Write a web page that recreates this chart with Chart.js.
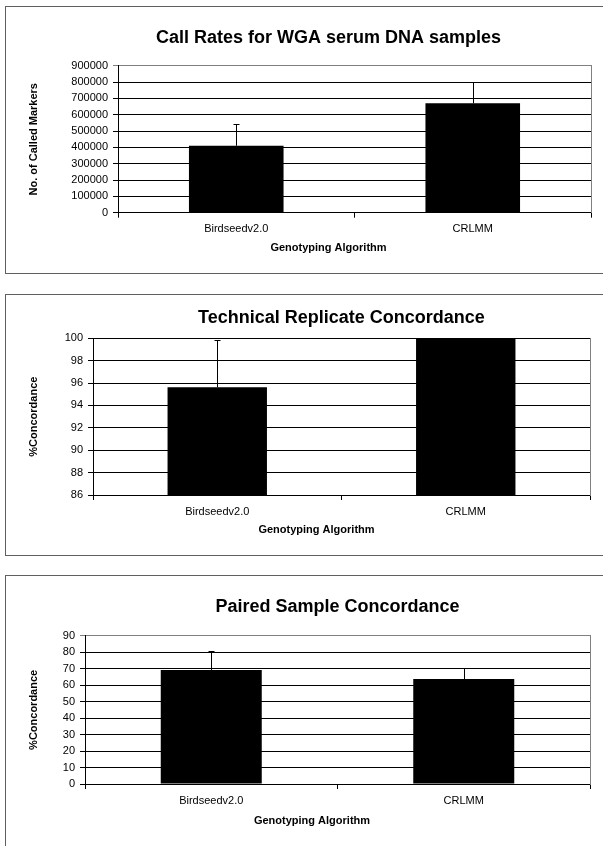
<!DOCTYPE html>
<html>
<head>
<meta charset="utf-8">
<script src="https://cdn.jsdelivr.net/npm/chart.js@4.4.1/dist/chart.umd.min.js"></script>
<style>
html, body { margin: 0; padding: 0; background: #fff; overflow: hidden; width: 603px; height: 846px; }
.box { position: absolute; left: 5px; width: 700px; border: 1px solid #606060; box-sizing: border-box; }
canvas { position: absolute; left: 0; }
</style>
</head>
<body>
<div class="box" style="top:6px;height:268px"></div>
<div class="box" style="top:294px;height:262px"></div>
<div class="box" style="top:575px;height:400px"></div>
<canvas id="c1" width="657" height="267" style="top:6px"></canvas>
<canvas id="c2" width="633" height="261" style="top:294px"></canvas>
<canvas id="c3" width="624" height="271" style="top:575px"></canvas>
<script>
var algorithms = ["Birdseedv2.0", "CRLMM"];

var callRates = [410000, 670000];
var callRateErr = [135000, 128000];
var callTicks = [0, 900000, 100000];

var techConcordance = [95.62, 100];
var techErr = [4.2, 0];
var techTicks = [86, 100, 2];

var pairedConcordance = [69.2, 63.7];
var pairedErr = [11.7, 6.9];
var pairedTicks = [0, 90, 10];

var FONT = "'Liberation Sans', Arial, sans-serif";
Chart.defaults.font.family = FONT;
Chart.defaults.color = "#000";

// upper error bars only, like the excel original
var errorBars = {
  id: "errorBars",
  afterDatasetsDraw: function(chart) {
    var ctx = chart.ctx, area = chart.chartArea, y = chart.scales.y;
    chart.data.datasets.forEach(function(ds, i) {
      if (!ds.errorPlus) return;
      var meta = chart.getDatasetMeta(i);
      ctx.save();
      ctx.beginPath();
      ctx.rect(area.left, area.top - 1, area.right - area.left, area.bottom - area.top + 1);
      ctx.clip();
      ctx.strokeStyle = "#000";
      ctx.lineWidth = 1;
      meta.data.forEach(function(bar, j) {
        var e = ds.errorPlus[j];
        if (!e) return;
        var x = Math.round(bar.x) + 0.5;
        var top = Math.round(y.getPixelForValue(ds.data[j] + e)) + 0.5;
        ctx.beginPath();
        ctx.moveTo(x, bar.y);
        ctx.lineTo(x, top);
        ctx.moveTo(x - 3, top);
        ctx.lineTo(x + 3, top);
        ctx.stroke();
      });
      ctx.restore();
    });
  }
};

function build(id, o) {
  return new Chart(id, {
    type: "bar",
    data: {
      labels: algorithms,
      datasets: [{
        data: o.values,
        errorPlus: o.errs,
        backgroundColor: "#000",
        borderWidth: 0,
        barPercentage: 0.4,
        categoryPercentage: 1
      }]
    },
    options: {
      responsive: false,
      animation: false,
      layout: { padding: 0 },
      plugins: {
        legend: { display: false },
        tooltip: { enabled: false },
        title: {
          display: true,
          text: o.title,
          fullSize: o.titleFull,
          color: "#000",
          font: { size: 18, weight: "bold" },
          padding: o.titlePad
        },
        subtitle: {
          display: true,
          position: "bottom",
          text: "Genotyping Algorithm",
          color: "#000",
          font: { size: 11, weight: "bold" },
          padding: o.subPad
        }
      },
      scales: {
        x: {
          grid: { display: true, drawOnChartArea: false, tickLength: 5, color: "#000" },
          border: { color: "#000" },
          ticks: { color: "#000", padding: 5, font: { size: 11 } }
        },
        y: {
          min: o.ticks[0],
          max: o.ticks[1],
          ticks: {
            stepSize: o.ticks[2],
            color: "#000",
            padding: 5,
            font: { size: 11 },
            callback: function(v) { return String(v); }
          },
          grid: {
            tickLength: 5,
            color: function(c) { return c.tick.value === o.ticks[1] ? o.topGrid : "#000"; }
          },
          border: { color: "#000" },
          title: {
            display: true,
            text: o.yTitle,
            color: "#000",
            font: { size: 11, weight: "bold" },
            padding: { top: 27.4, bottom: 0 }
          },
          afterFit: function(s) { s.width = o.left; }
        },
        yr: {
          position: "right",
          display: true,
          grid: { display: false, drawTicks: false },
          ticks: { display: false },
          border: { display: true, color: "#808080" },
          afterFit: function(s) { s.width = o.right; }
        }
      }
    },
    plugins: [errorBars]
  });
}

build("c1", {
  values: callRates, errs: callRateErr, ticks: callTicks,
  title: "Call Rates for WGA serum DNA samples", titleFull: true,
  yTitle: "No. of Called Markers",
  titlePad: { top: 21.2, bottom: 17 }, subPad: { top: 0.5, bottom: 18.4 },
  left: 118, right: 66, topGrid: "#808080"
});

build("c2", {
  values: techConcordance, errs: techErr, ticks: techTicks,
  title: "Technical Replicate Concordance", titleFull: false,
  yTitle: "%Concordance",
  titlePad: { top: 13.5, bottom: 9.2 }, subPad: { top: 0.2, bottom: 18.4 },
  left: 93, right: 43, topGrid: "#000"
});

build("c3", {
  values: pairedConcordance, errs: pairedErr, ticks: pairedTicks,
  title: "Paired Sample Concordance", titleFull: false,
  yTitle: "%Concordance",
  titlePad: { top: 21.5, bottom: 17.6 }, subPad: { top: 1.9, bottom: 18.7 },
  left: 85, right: 34, topGrid: "#808080"
});
</script>
</body>
</html>
